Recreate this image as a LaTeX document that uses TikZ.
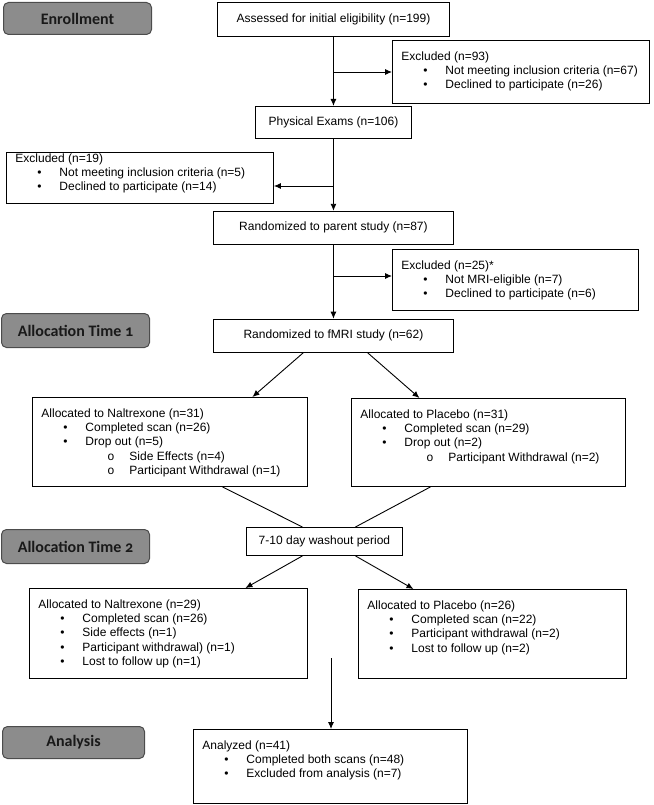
\documentclass[tikz,border=0pt]{standalone}
\usepackage{fontspec}
\setmainfont{Liberation Sans}
\setmonofont{Liberation Mono}
\newfontfamily\stagefont[Numbers=OldStyle]{Carlito}
\usetikzlibrary{positioning,arrows.meta}

\newcommand{\flowtext}[4]{\parbox[c][#2pt][t]{#1pt}{\vspace*{#3pt}\raggedright\leftskip=9pt #4}}
\newcommand{\itm}{\\\hspace*{22pt}\makebox[22pt][l]{\textbullet}}
\newcommand{\subitm}{\\\hspace*{66pt}\makebox[22pt][l]{\texttt{o}}}

\tikzset{
  stage/.style={draw=black!70,fill=black!45,rounded corners=5pt,line width=1pt,
    minimum width=148pt,minimum height=32pt,inner sep=0pt,anchor=north west,
    font=\stagefont\bfseries\fontsize{16}{18}\selectfont,text=black!90},
  flat/.style={draw,rectangle,line width=0.9pt,inner sep=0pt,anchor=north west,
    font=\fontsize{12}{14.4}\selectfont}
}

\begin{document}
\begin{tikzpicture}[x=1pt,y=-1pt,line width=0.9pt,>={Latex[length=7pt,width=6pt]}]
\useasboundingbox (0,0) rectangle (653,805);

% phase labels
\node[stage] (enroll) at (3,2) {Enrollment};
\node[stage,minimum height=34pt] (alloc1) at (1,313) {Allocation Time 1};
\node[stage,minimum height=34pt] (alloc2) at (1,529) {Allocation Time 2};
\node[stage,minimum width=142pt] (analysis) at (2,726) {Analysis};

% enrollment
\node[flat,minimum width=232pt,minimum height=34pt] (1) at (217,2) {Assessed for initial eligibility (n=199)};
\node[flat] (2) at (392,40) {\flowtext{257}{63}{11}{Excluded (n=93)\itm Not meeting inclusion criteria (n=67)\itm Declined to participate (n=26)}};
\node[flat,minimum width=156pt,minimum height=32pt] (3) [below=69pt of 1] {Physical Exams (n=106)};
\node[flat] (4) at (6,152) {\flowtext{267}{51}{1}{Excluded (n=19)\itm Not meeting inclusion criteria (n=5)\itm Declined to participate (n=14)}};
\node[flat,minimum width=240pt,minimum height=33pt] (5) [below=72pt of 3] {Randomized to parent study (n=87)};
\node[flat] (6) at (392,249) {\flowtext{246}{61}{11}{Excluded (n=25)*\itm Not MRI-eligible (n=7)\itm Declined to participate (n=6)}};
\node[flat,minimum width=240pt,minimum height=33pt] (7) [below=74pt of 5] {Randomized to fMRI study (n=62)};

\coordinate (b1) at (333,72);
\coordinate (b2) at (333,186);
\coordinate (b3) at (333,276);

\path[->]
(1) edge (3)
(3) edge (5)
(5) edge (7)
(b1) edge (b1 -| 2.west)
(b2) edge (b2 -| 4.east)
(b3) edge (b3 -| 6.west);

% allocation time 1
\node[flat] (8) at (32,397) {\flowtext{275}{89}{11}{Allocated to Naltrexone (n=31)\itm Completed scan (n=26)\itm Drop out (n=5)\subitm Side Effects (n=4)\subitm Participant Withdrawal (n=1)}};
\node[flat] (9) at (351,398) {\flowtext{274}{88}{11}{Allocated to Placebo (n=31)\itm Completed scan (n=29)\itm Drop out (n=2)\subitm Participant Withdrawal (n=2)}};
\node[flat,minimum width=156pt,minimum height=28pt] (10) at (246,527) {7-10 day washout period};

\path[->]
([xshift=-30pt]7.south) edge ([xshift=82.5pt]8.north)
([xshift=34pt]7.south) edge ([xshift=-69pt]9.north);

\path
([xshift=52.5pt]8.south) edge ([xshift=-22pt]10.north)
([xshift=-58pt]9.south) edge ([xshift=31pt]10.north);

% allocation time 2
\node[flat] (11) at (29,588) {\flowtext{278}{90}{11}{Allocated to Naltrexone (n=29)\itm Completed scan (n=26)\itm Side effects (n=1)\itm Participant withdrawal) (n=1)\itm Lost to follow up (n=1)}};
\node[flat] (12) at (358,589) {\flowtext{268}{89}{11}{Allocated to Placebo (n=26)\itm Completed scan (n=22)\itm Participant withdrawal (n=2)\itm Lost to follow up (n=2)}};

\path[->]
([xshift=-22pt]10.south) edge ([xshift=77pt]11.north)
([xshift=31pt]10.south) edge ([xshift=-79pt]12.north);

% analysis
\node[flat] (13) at (193,729) {\flowtext{274}{74}{11}{Analyzed (n=41)\itm Completed both scans (n=48)\itm Excluded from analysis (n=7)}};

\coordinate (b4) at (331,658);
\path[->] (b4) edge (b4 |- 13.north);

\end{tikzpicture}
\end{document}
